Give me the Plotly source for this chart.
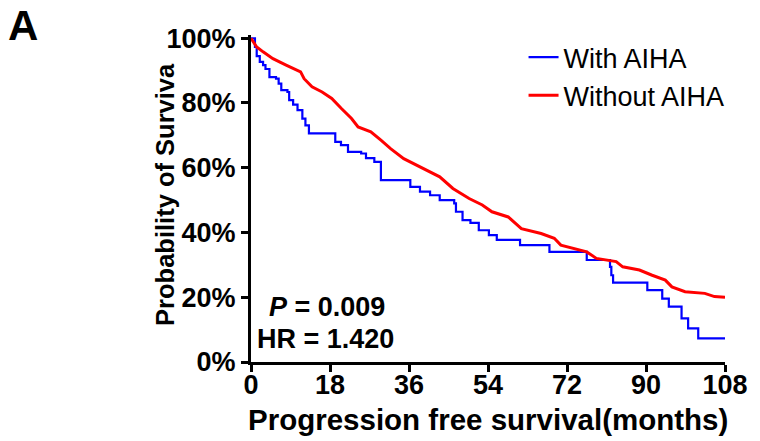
import plotly.graph_objects as go

# Kaplan-Meier estimates, progression free survival (months)
with_aiha_months = [0, 0.9, 1.3, 2.0, 2.75, 3.3, 4.2, 5.7, 6.3, 6.9, 8.3, 8.7, 9.6, 10.6,
                    11.7, 12.4, 13.2, 19.2, 20.5, 22.1, 25.1, 26.2, 28.1, 29.6, 36.3,
                    38.5, 40.8, 43.0, 46.3, 46.7, 48.2, 50.0, 51.9, 54.2, 56.0, 61.3,
                    68.0, 76.5, 81.8, 82.1, 82.5, 90.3, 93.7, 95.2, 98.1, 99.6, 101.9, 108]
with_aiha_surv = [1.0, 0.973, 0.945, 0.927, 0.917, 0.905, 0.88, 0.875, 0.86, 0.84, 0.834,
                  0.809, 0.795, 0.778, 0.752, 0.731, 0.706, 0.68, 0.67, 0.649, 0.644,
                  0.63, 0.618, 0.562, 0.541, 0.526, 0.515, 0.5, 0.49, 0.464, 0.438,
                  0.43, 0.407, 0.392, 0.377, 0.361, 0.34, 0.315, 0.294, 0.268, 0.245,
                  0.222, 0.196, 0.171, 0.135, 0.104, 0.073, 0.073]

without_aiha_months = [0, 1.3, 2.75, 5, 8, 11.3, 12.1, 13.9, 16.2, 18.4, 20.6, 22.9, 24.4,
                       27.3, 29.6, 31.8, 34.8, 37.8, 40.8, 43, 46, 49.7, 52.7, 54.9, 58.6,
                       61.6, 66.1, 69.1, 70.6, 73.5, 76.5, 78.7, 83.2, 84.7, 88.5, 91.4,
                       94.4, 95.9, 98.9, 103.4, 105.6, 108]
without_aiha_surv = [1.0, 0.973, 0.958, 0.937, 0.917, 0.896, 0.875, 0.85, 0.834, 0.814,
                     0.783, 0.752, 0.726, 0.711, 0.685, 0.659, 0.628, 0.608, 0.587, 0.572,
                     0.536, 0.505, 0.485, 0.464, 0.448, 0.412, 0.397, 0.382, 0.361, 0.351,
                     0.34, 0.32, 0.31, 0.294, 0.284, 0.268, 0.253, 0.232, 0.217, 0.212,
                     0.202, 0.2]

x_ticks = [0, 18, 36, 54, 72, 90, 108]
y_ticks = [0, 0.2, 0.4, 0.6, 0.8, 1.0]
y_tick_labels = ["0%", "20%", "40%", "60%", "80%", "100%"]

FONT = "Liberation Sans, Arial, sans-serif"

fig = go.Figure()
fig.add_trace(go.Scatter(
    x=with_aiha_months, y=with_aiha_surv, name="With AIHA",
    mode="lines", line=dict(color="#0000FF", width=2.2, shape="hv"),
))
fig.add_trace(go.Scatter(
    x=without_aiha_months, y=without_aiha_surv, name="Without AIHA",
    mode="lines", line=dict(color="#FF0000", width=3),
))

axis_common = dict(
    showline=True, linecolor="black", linewidth=3,
    ticks="outside", ticklen=7, tickwidth=3, tickcolor="black",
    showgrid=False, zeroline=False,
    tickfont=dict(family=FONT, size=27, color="black", weight="bold"),
)

fig.update_xaxes(range=[0, 108], tickvals=x_ticks, ticklabelstandoff=-10, **axis_common)
fig.update_yaxes(range=[0, 1.01], tickvals=y_ticks, ticktext=y_tick_labels, **axis_common)

annotations = [
    dict(text="Progression free survival(months)", xref="paper", yref="paper",
         x=0.50, y=-0.177, xanchor="center", yanchor="middle", showarrow=False,
         font=dict(family=FONT, size=29.5, color="black", weight="bold")),
    dict(text="Probability of Surviva", xref="paper", yref="paper",
         x=-0.18, y=0.513, xanchor="center", yanchor="middle", showarrow=False,
         textangle=-90, font=dict(family=FONT, size=25.5, color="black", weight="bold")),
    dict(text="A", xref="paper", yref="paper", x=-0.514, y=1.104,
         xanchor="left", yanchor="top", showarrow=False, borderpad=0,
         font=dict(family=FONT, size=42, color="black", weight="bold")),
    dict(text="<i>P</i> = 0.009", xref="x", yref="y", x=3.6, y=0.17,
         xanchor="left", yanchor="middle", showarrow=False,
         font=dict(family=FONT, size=27, color="black", weight="bold")),
    dict(text="HR = 1.420", xref="x", yref="y", x=0.9, y=0.071,
         xanchor="left", yanchor="middle", showarrow=False,
         font=dict(family=FONT, size=27, color="black", weight="bold")),
]

fig.update_layout(
    width=760, height=441,
    margin=dict(l=251, r=25, t=35, b=79),
    paper_bgcolor="white", plot_bgcolor="white",
    showlegend=True,
    legend=dict(x=0.575, y=1.006, xanchor="left", yanchor="top",
                bgcolor="rgba(0,0,0,0)", itemwidth=30,
                font=dict(family=FONT, size=27, color="black"),
                tracegroupgap=7),
    annotations=annotations,
)

fig.write_html("out.html")
